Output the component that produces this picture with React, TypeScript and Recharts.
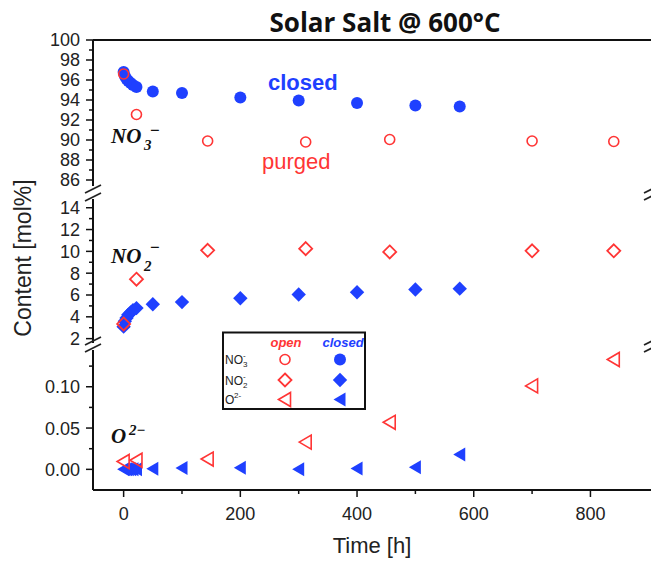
import React from 'react';
import { ScatterChart, Scatter, XAxis, YAxis, ReferenceLine } from 'recharts';

// ---- data ----
const TIME_CLOSED = [0, 2, 5, 8, 12, 16, 22, 50, 100, 200, 300, 400, 500, 576];
const NO3_CLOSED = [96.8, 96.4, 96.1, 95.9, 95.7, 95.5, 95.3, 94.85, 94.7, 94.25, 93.95, 93.7, 93.45, 93.35];
const NO2_CLOSED = [3.1, 3.6, 3.9, 4.2, 4.4, 4.6, 4.8, 5.15, 5.35, 5.7, 6.05, 6.25, 6.5, 6.58];
const O2_CLOSED = [0, 0, 0, 0, 0, 0, 0, 0.0008, 0.0015, 0.002, 0, 0.001, 0.0025, 0.018];

const TIME_OPEN = [0, 22, 144, 312, 456, 700, 840];
const NO3_OPEN = [96.6, 92.55, 89.9, 89.8, 90.05, 89.9, 89.85];
const NO2_OPEN = [3.35, 7.45, 10.1, 10.25, 9.95, 10.05, 10.05];
const O2_OPEN = [0.0095, 0.011, 0.0125, 0.033, 0.057, 0.101, 0.133];

const TIME_MAJOR = [0, 200, 400, 600, 800];
const TIME_MINOR = [100, 300, 500, 700];
const NO3_MAJOR = [86, 88, 90, 92, 94, 96, 98, 100];
const NO3_MINOR = [87, 89, 91, 93, 95, 97, 99];
const NO2_MAJOR = [2, 4, 6, 8, 10, 12, 14];
const NO2_MINOR = [3, 5, 7, 9, 11, 13];
const O2_MAJOR = [0, 0.05, 0.1];
const O2_MINOR = [0.025, 0.075, 0.125];

const X_DOMAIN: [number, number] = [-52.5, 905.5];
const NO3_DOMAIN: [number, number] = [85.4, 100];
const NO2_DOMAIN: [number, number] = [1.6, 14.8];
const O2_DOMAIN: [number, number] = [-0.025, 0.1445];

// ---- style ----
const BLUE = '#1f40ff';
const RED = '#ff3535';
const FONT = '"Liberation Sans", Arial, sans-serif';
const AXIS_X = 93;
const AXIS_Y = 490;
const W = 660;
const H = 562;

const pts = (xs: number[], ys: number[]) => xs.map((x, i) => ({ x, y: ys[i] }));

const FilledCircle = (p: any) => <circle cx={p.cx} cy={p.cy} r={6} fill={BLUE} />;
const OpenCircle = (p: any) => <circle cx={p.cx} cy={p.cy} r={5} fill="none" stroke={RED} strokeWidth={1.6} />;
const diamondPath = (cx: number, cy: number, h: number) => `M${cx},${cy - h}L${cx + h},${cy}L${cx},${cy + h}L${cx - h},${cy}Z`;
const FilledDiamond = (p: any) => <path d={diamondPath(p.cx, p.cy, 7.2)} fill={BLUE} />;
const OpenDiamond = (p: any) => <path d={diamondPath(p.cx, p.cy, 6.5)} fill="none" stroke={RED} strokeWidth={1.8} />;
const triPoints = (cx: number, cy: number) => `${cx - 6.5},${cy} ${cx + 5.5},${cy - 7} ${cx + 5.5},${cy + 7}`;
const FilledTri = (p: any) => <polygon points={triPoints(p.cx, p.cy)} fill={BLUE} />;
const OpenTri = (p: any) => <polygon points={triPoints(p.cx, p.cy)} fill="none" stroke={RED} strokeWidth={1.6} />;

function makeYTick(major: number[], fmt: (v: number) => string) {
  return (props: any) => {
    const { y, payload } = props;
    const v = payload.value;
    const isMajor = major.includes(v);
    return (
      <g>
        <line x1={AXIS_X - (isMajor ? 7 : 4)} x2={AXIS_X} y1={y} y2={y} stroke="#111" strokeWidth={1.5} />
        {isMajor && (
          <text x={80} y={y} dy="0.36em" textAnchor="end" fontSize={18} fontFamily={FONT} fill="#222">
            {fmt(v)}
          </text>
        )}
      </g>
    );
  };
}

const XTick = (props: any) => {
  const { x, payload } = props;
  const v = payload.value;
  const isMajor = TIME_MAJOR.includes(v);
  return (
    <g>
      <line x1={x} x2={x} y1={AXIS_Y} y2={AXIS_Y + (isMajor ? 7 : 4)} stroke="#111" strokeWidth={1.5} />
      {isMajor && (
        <text x={x} y={520} textAnchor="middle" fontSize={18} fontFamily={FONT} fill="#222">
          {v}
        </text>
      )}
    </g>
  );
};

type PanelProps = {
  top: number;
  bottom: number;
  domain: [number, number];
  major: number[];
  minor: number[];
  fmt: (v: number) => string;
  closed: { x: number; y: number }[];
  open: { x: number; y: number }[];
  ClosedShape: any;
  OpenShape: any;
  showX?: boolean;
  topBorder?: boolean;
};

function Panel(p: PanelProps) {
  const ticks = [...p.major, ...p.minor].sort((a, b) => a - b);
  return (
    <div style={{ position: 'absolute', left: 0, top: 0 }}>
      <ScatterChart width={W} height={H} margin={{ top: p.top, right: 8, bottom: p.bottom, left: 0 }}>
        {p.showX ? (
          <XAxis
            type="number"
            dataKey="x"
            domain={X_DOMAIN}
            allowDataOverflow
            ticks={[...TIME_MAJOR, ...TIME_MINOR].sort((a, b) => a - b)}
            interval={0}
            tick={XTick}
            tickLine={false}
            axisLine={{ stroke: '#111', strokeWidth: 2 }}
            height={40}
          />
        ) : (
          <XAxis type="number" dataKey="x" domain={X_DOMAIN} allowDataOverflow hide />
        )}
        <YAxis
          type="number"
          dataKey="y"
          domain={p.domain}
          allowDataOverflow
          ticks={ticks}
          interval={0}
          tick={makeYTick(p.major, p.fmt)}
          tickLine={false}
          axisLine={{ stroke: '#111', strokeWidth: 2 }}
          width={AXIS_X}
        />
        {p.topBorder && <ReferenceLine y={p.domain[1]} stroke="#111" strokeWidth={2} />}
        <Scatter data={p.closed} shape={p.ClosedShape} isAnimationActive={false} />
        <Scatter data={p.open} shape={p.OpenShape} isAnimationActive={false} />
      </ScatterChart>
    </div>
  );
}

const Slash = ({ cx, cy }: { cx: number; cy: number }) => (
  <line x1={cx - 8} y1={cy + 4} x2={cx + 8} y2={cy - 4} stroke="#222" strokeWidth={1.8} />
);

const MATH = '"Liberation Serif", "DejaVu Serif", serif';

function Overlay() {
  return (
    <svg width={651} height={562} style={{ position: 'absolute', left: 0, top: 0, pointerEvents: 'none' }}>
      {/* title */}
      <text x={385} y={32} textAnchor="middle" fontFamily='"Open Sans", sans-serif' fontWeight="bold" fontSize={26} fill="#111">
        Solar Salt @ 600°C
      </text>
      {/* axis labels */}
      <text x={31} y={258} transform="rotate(-90 31 258)" textAnchor="middle" fontFamily={FONT} fontSize={23} fill="#222">
        Content [mol%]
      </text>
      <text x={372} y={553} textAnchor="middle" fontFamily={FONT} fontSize={22} fill="#222">
        Time [h]
      </text>
      {/* annotations */}
      <text x={268} y={90} fontFamily={FONT} fontWeight="bold" fontSize={22} fill={BLUE}>closed</text>
      <text x={262} y={169} fontFamily={FONT} fontSize={22} fill={RED}>purged</text>
      {/* ion labels */}
      <text x={111} y={143} fontFamily={MATH} fontStyle="italic" fontWeight="bold" fontSize={21} fill="#111">NO</text>
      <text x={144} y={150} fontFamily={MATH} fontStyle="italic" fontWeight="bold" fontSize={15} fill="#111">3</text>
      <text x={150} y={136} fontFamily={MATH} fontWeight="bold" fontSize={17} fill="#111">−</text>

      <text x={111} y={263} fontFamily={MATH} fontStyle="italic" fontWeight="bold" fontSize={21} fill="#111">NO</text>
      <text x={144} y={271} fontFamily={MATH} fontStyle="italic" fontWeight="bold" fontSize={15} fill="#111">2</text>
      <text x={150} y={253} fontFamily={MATH} fontWeight="bold" fontSize={17} fill="#111">−</text>

      <text x={111} y={443} fontFamily={MATH} fontStyle="italic" fontWeight="bold" fontSize={21} fill="#111">O</text>
      <text x={129} y={435} fontFamily={MATH} fontStyle="italic" fontWeight="bold" fontSize={15} fill="#111">2−</text>

      {/* axis breaks */}
      <Slash cx={93} cy={189} />
      <Slash cx={93} cy={197} />
      <Slash cx={93} cy={341} />
      <Slash cx={93} cy={348} />
      <Slash cx={652} cy={189} />
      <Slash cx={652} cy={196} />
      <Slash cx={652} cy={341} />
      <Slash cx={652} cy={348} />

      {/* legend */}
      <rect x={223} y={332.5} width={142} height={76.5} fill="#fff" stroke="#111" strokeWidth={2} />
      <text x={286} y={347} textAnchor="middle" fontFamily={FONT} fontStyle="italic" fontWeight="bold" fontSize={13} fill={RED}>open</text>
      <text x={343} y={347} textAnchor="middle" fontFamily={FONT} fontStyle="italic" fontWeight="bold" fontSize={13} fill={BLUE}>closed</text>

      <text x={225} y={364} fontFamily={FONT} fontSize={12} fill="#222">NO</text>
      <text x={243} y={367} fontFamily={FONT} fontSize={8} fill="#222">3</text>
      <text x={243} y={358} fontFamily={FONT} fontSize={8} fill="#222">-</text>
      <text x={225} y={385} fontFamily={FONT} fontSize={12} fill="#222">NO</text>
      <text x={243} y={388} fontFamily={FONT} fontSize={8} fill="#222">2</text>
      <text x={243} y={379} fontFamily={FONT} fontSize={8} fill="#222">-</text>
      <text x={225} y={404} fontFamily={FONT} fontSize={12} fill="#222">O</text>
      <text x={234} y={398} fontFamily={FONT} fontSize={8} fill="#222">2-</text>

      <OpenCircle cx={285} cy={359.5} />
      <FilledCircle cx={340} cy={359.5} />
      <OpenDiamond cx={285} cy={380} />
      <FilledDiamond cx={340} cy={380} />
      <OpenTri cx={285} cy={399.5} />
      <FilledTri cx={340} cy={399.5} />
    </svg>
  );
}

export default function App() {
  return (
    <div style={{ position: 'absolute', left: 0, top: 0, width: 651, height: 562, overflow: 'hidden', background: '#fff' }}>
      <Panel
        top={40}
        bottom={H - 186}
        domain={NO3_DOMAIN}
        major={NO3_MAJOR}
        minor={NO3_MINOR}
        fmt={(v) => String(v)}
        closed={pts(TIME_CLOSED, NO3_CLOSED)}
        open={pts(TIME_OPEN, NO3_OPEN)}
        ClosedShape={FilledCircle}
        OpenShape={OpenCircle}
        topBorder
      />
      <Panel
        top={199}
        bottom={H - 343}
        domain={NO2_DOMAIN}
        major={NO2_MAJOR}
        minor={NO2_MINOR}
        fmt={(v) => String(v)}
        closed={pts(TIME_CLOSED, NO2_CLOSED)}
        open={pts(TIME_OPEN, NO2_OPEN)}
        ClosedShape={FilledDiamond}
        OpenShape={OpenDiamond}
      />
      <Panel
        top={350}
        bottom={H - AXIS_Y - 40}
        domain={O2_DOMAIN}
        major={O2_MAJOR}
        minor={O2_MINOR}
        fmt={(v) => v.toFixed(2)}
        closed={pts(TIME_CLOSED, O2_CLOSED)}
        open={pts(TIME_OPEN, O2_OPEN)}
        ClosedShape={FilledTri}
        OpenShape={OpenTri}
        showX
      />
      <Overlay />
    </div>
  );
}
